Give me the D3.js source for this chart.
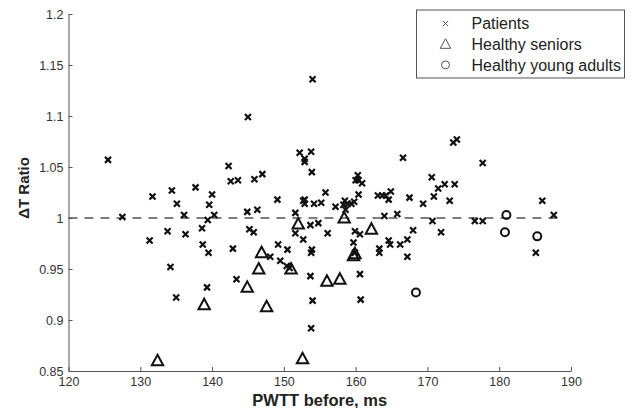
<!DOCTYPE html>
<html>
<head>
<meta charset="utf-8">
<script src="https://cdn.jsdelivr.net/npm/d3@7"></script>
<style>
  body { margin: 0; background: #fff; }
  svg { font-family: "Liberation Sans", Arial, sans-serif; }
  .axis path, .axis line { stroke: #555; }
  .axis text { fill: #333; font-size: 12.5px; }
</style>
</head>
<body>
<div id="chart"></div>
<script>
// Patients (x markers)
const patientsX = [125.5, 127.5, 131.3, 131.7, 133.8, 134.2, 134.4, 135.1, 135.0, 136.1,
  136.3, 137.7, 138.6, 138.7, 139.4, 139.5, 139.3, 139.6, 140.0, 140.3,
  142.3, 142.6, 142.9, 143.6, 143.4, 145.0, 144.9, 145.2, 145.8, 145.9,
  146.3, 147.0, 148.1, 149.1, 149.2, 149.5, 150.4, 150.5, 150.8, 151.6,
  151.6, 152.2, 152.7, 152.7, 152.9, 152.9, 152.9, 152.9, 153.7, 153.7,
  153.8, 153.8, 153.8, 153.9, 153.9, 154.0, 154.0, 154.2, 154.8, 155.2,
  155.8, 156.1, 157.2, 158.3, 158.5, 158.6, 158.9, 159.4, 159.8, 159.7,
  159.9, 160.0, 160.3, 160.4, 160.4, 160.6, 160.6, 160.7, 160.9, 159.9,
  163.1, 163.3, 163.3, 163.7, 164.0, 164.2, 164.6, 164.6, 164.9, 164.8,
  165.8, 166.2, 166.6, 167.2, 167.2, 167.5, 168.0, 169.4, 170.6, 170.7,
  170.9, 171.5, 171.9, 172.4, 173.1, 173.6, 173.8, 174.1, 176.6, 177.7,
  177.7, 185.1, 186.0, 187.6];
const patientsY = [1.057, 1.001, 0.978, 1.021, 0.987, 0.952, 1.027, 1.014, 0.922, 1.003,
  0.984, 1.030, 0.990, 0.974, 0.998, 0.966, 0.932, 1.013, 1.023, 1.003,
  1.051, 1.036, 0.970, 1.037, 0.940, 1.099, 1.006, 0.989, 0.986, 1.038,
  1.008, 1.043, 0.962, 1.018, 0.974, 0.958, 0.953, 0.969, 0.951, 1.005,
  0.985, 1.064, 0.979, 1.017, 1.058, 1.055, 1.014, 1.018, 0.993, 0.943,
  0.892, 1.065, 0.966, 0.969, 1.045, 0.919, 1.136, 1.014, 0.995, 1.015,
  1.025, 0.985, 1.011, 1.013, 1.017, 1.008, 1.014, 1.014, 1.016, 0.976,
  0.987, 1.037, 1.042, 1.023, 1.037, 0.984, 0.945, 0.920, 1.034, 0.966,
  1.022, 0.970, 0.966, 1.022, 1.002, 1.022, 1.018, 0.978, 1.026, 0.974,
  1.004, 0.974, 1.059, 0.979, 0.962, 1.020, 0.988, 1.014, 1.040, 0.997,
  1.021, 1.029, 0.986, 1.033, 1.017, 1.074, 1.033, 1.077, 0.997, 0.997,
  1.054, 0.966, 1.017, 1.003];

// Healthy seniors (triangles)
const seniorsX = [132.4, 138.9, 144.9, 146.5, 146.9, 147.6, 151.0, 152.0, 152.6, 156.0,
  157.8, 158.4, 159.7, 159.9, 162.2];
const seniorsY = [0.860, 0.915, 0.932, 0.950, 0.966, 0.913, 0.950, 0.994, 0.862, 0.938,
  0.940, 1.000, 0.963, 0.965, 0.989];

// Healthy young adults (circles)
const youngX = [168.4, 181.0, 180.8, 185.3];
const youngY = [0.927, 1.003, 0.986, 0.982];

const xTicks = [120, 130, 140, 150, 160, 170, 180, 190];
const yTicks = [0.85, 0.9, 0.95, 1, 1.05, 1.1, 1.15, 1.2];
const legendLabels = ["Patients", "Healthy seniors", "Healthy young adults"];

const W = 634, H = 408;
const margin = { top: 14, right: 63, bottom: 37, left: 68.5 };
const width = W - margin.left - margin.right,
  height = H - margin.top - margin.bottom;

const svg = d3.select("#chart").append("svg")
  .attr("width", W)
  .attr("height", H);

const g = svg.append("g")
  .attr("transform", "translate(" + margin.left + "," + margin.top + ")");

const x = d3.scaleLinear().domain([120, 190]).range([0, width]);
const y = d3.scaleLinear().domain([0.85, 1.2]).range([height, 0]);

// axes, ticks pointing inward
g.append("g").attr("class", "axis")
  .attr("transform", "translate(0," + height + ")")
  .call(d3.axisBottom(x).tickValues(xTicks).tickSizeInner(-4).tickSizeOuter(0).tickPadding(6)
    .tickFormat(d3.format("d")));

g.append("g").attr("class", "axis")
  .call(d3.axisLeft(y).tickValues(yTicks).tickSizeInner(-4).tickSizeOuter(0).tickPadding(5)
    .tickFormat(d => String(+d.toFixed(2))));

// reference line at 1
g.append("line")
  .attr("x1", x(120)).attr("x2", x(189))
  .attr("y1", y(1)).attr("y2", y(1))
  .attr("stroke", "#555")
  .attr("stroke-width", 1.4)
  .attr("stroke-dasharray", "9,7");

// marker shapes
function crossPath(s) {
  return "M" + (-s) + "," + (-s) + "L" + s + "," + s + "M" + (-s) + "," + s + "L" + s + "," + (-s);
}
function triPath(s) {
  return "M0," + (-s) + "L" + (s * 0.95) + "," + (s * 0.75) + "L" + (-s * 0.95) + "," + (s * 0.75) + "Z";
}

const patients = patientsX.map((v, i) => [v, patientsY[i]]);
const seniors = seniorsX.map((v, i) => [v, seniorsY[i]]);
const young = youngX.map((v, i) => [v, youngY[i]]);

g.append("g").selectAll("path")
  .data(patients)
  .join("path")
  .attr("transform", d => "translate(" + x(d[0]) + "," + y(d[1]) + ")")
  .attr("d", crossPath(3))
  .attr("fill", "none")
  .attr("stroke", "#111")
  .attr("stroke-width", 2.2);

g.append("g").selectAll("path")
  .data(seniors)
  .join("path")
  .attr("transform", d => "translate(" + x(d[0]) + "," + y(d[1]) + ")")
  .attr("d", triPath(6))
  .attr("fill", "none")
  .attr("stroke", "#111")
  .attr("stroke-width", 2);

g.append("g").selectAll("circle")
  .data(young)
  .join("circle")
  .attr("cx", d => x(d[0]))
  .attr("cy", d => y(d[1]))
  .attr("r", 4)
  .attr("fill", "none")
  .attr("stroke", "#111")
  .attr("stroke-width", 2);

// axis titles
svg.append("text")
  .attr("x", margin.left + width / 2)
  .attr("y", 406)
  .attr("text-anchor", "middle")
  .attr("font-size", 16.5)
  .attr("font-weight", "bold")
  .attr("fill", "#222")
  .text("PWTT before, ms");

svg.append("text")
  .attr("transform", "translate(29,188) rotate(-90)")
  .attr("text-anchor", "middle")
  .attr("font-size", 15)
  .attr("font-weight", "bold")
  .attr("fill", "#222")
  .text("ΔT Ratio");

// legend
const legend = svg.append("g").attr("transform", "translate(416.5,10)");
legend.append("rect")
  .attr("width", 208).attr("height", 68)
  .attr("fill", "#fff")
  .attr("stroke", "#555")
  .attr("stroke-width", 1);

const rows = legend.selectAll("g.row")
  .data(legendLabels)
  .join("g")
  .attr("class", "row")
  .attr("transform", (d, i) => "translate(0," + (13.5 + i * 20.7) + ")");

rows.append("path")
  .attr("transform", "translate(29,0)")
  .attr("d", (d, i) => i === 0 ? crossPath(2.6) : i === 1 ? triPath(5.5) : null)
  .attr("fill", "none")
  .attr("stroke", "#555")
  .attr("stroke-width", 1);

rows.filter((d, i) => i === 2).append("circle")
  .attr("cx", 29).attr("r", 4)
  .attr("fill", "none")
  .attr("stroke", "#555")
  .attr("stroke-width", 1);

rows.append("text")
  .attr("x", 55)
  .attr("dy", "0.35em")
  .attr("font-size", 16)
  .attr("fill", "#222")
  .text(d => d);
</script>
</body>
</html>
